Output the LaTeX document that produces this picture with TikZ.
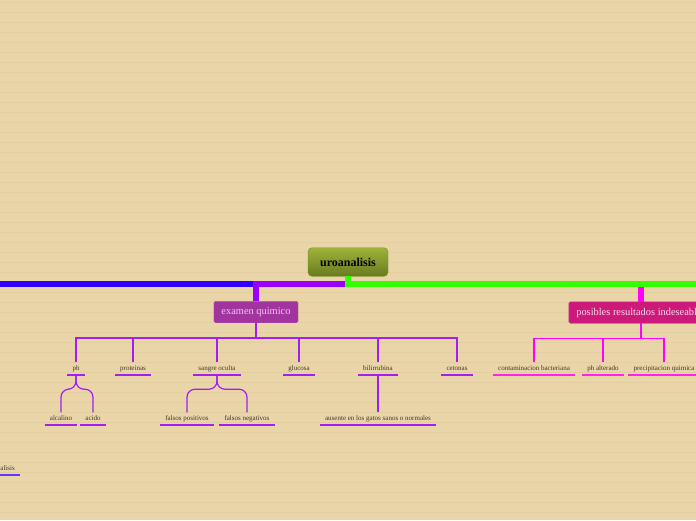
\documentclass[tikz,border=0pt]{standalone}
\usepackage{fontspec}
\setmainfont{Liberation Serif}
\usepackage{xcolor}
\definecolor{PaperBg}{HTML}{E9D5A8}
\definecolor{PaperLine}{HTML}{E3CEA1}
\definecolor{RootTop}{HTML}{9DB43A}
\definecolor{RootBot}{HTML}{6A7A1F}
\definecolor{RootEdge}{HTML}{7A8C2A}
\definecolor{BranchBlue}{HTML}{3300FF}
\definecolor{BranchViolet}{HTML}{9900FF}
\definecolor{BranchGreen}{HTML}{33FF00}
\definecolor{BranchMagenta}{HTML}{FF00FF}
\definecolor{ExamFill}{HTML}{A2349F}
\definecolor{ExamText}{HTML}{F3C8EA}
\definecolor{PosFill}{HTML}{CC1A7B}
\definecolor{PosText}{HTML}{FAD9EB}
\definecolor{LeafText}{HTML}{3E3729}
\definecolor{LineViolet}{HTML}{A21EF2}
\definecolor{LinePink}{HTML}{FF22EE}
\definecolor{LineIndigo}{HTML}{6633FF}
\tikzset{
  % Nodo centrale e rami principali
  root/.style={rounded corners=4,draw=RootEdge,top color=RootTop,bottom color=RootBot,
    text=black,font=\fontsize{12}{14}\selectfont\bfseries,minimum width=80,minimum height=28.5,inner sep=0},
  topic/.style={rounded corners=1.5,fill=#1,draw=#1!85!white,font=\fontsize{10.4}{12}\selectfont,
    minimum height=21.5,inner xsep=7.5,inner ysep=0},
  % Foglie sottolineate
  leaf/.style={text=LeafText,font=\fontsize{7}{8}\selectfont,text height=5,text depth=1.6,
    inner xsep=5,inner ysep=2.9,anchor=base},
  underline/.style={line width=1.5,#1},
  % Connessioni
  thick branch/.style={line width=6,#1},
  thin branch/.style={line width=1.2,#1}
}
\begin{document}
\begin{tikzpicture}[x=1pt,y=-1pt]
    \fill[PaperBg] (0,0) rectangle (696,520);
    \useasboundingbox (0,0) rectangle (696,520);
    \clip (0,0) rectangle (696,520);
    \foreach \y in {2.5,12.5,...,512.5} \draw[PaperLine,line width=0.5] (0,\y)--(696,\y);
    \node[root] (uro) at (348,262) {uroanalisis};
    \node[topic=ExamFill,text=ExamText] (eq) at (256,312) {examen quimico};
    \node[topic=PosFill,text=PosText,minimum width=140] (pr) at (641,312.5) {posibles resultados indeseables};
    \coordinate (hub) at (348,284);
    \coordinate (west) at (-20,284);
    \coordinate (east) at (720,284);
    \draw[thick branch=BranchBlue] (hub)--(west);
    \draw[thick branch=BranchViolet] (hub) -| (eq.north);
    \draw[thick branch=BranchMagenta] (pr.north |- hub)--(pr.north);
    \draw[thick branch=BranchGreen] (uro.south) |- (east);
    \node[leaf] (ph) at (76,370.5) {ph};
    \node[leaf] (prot) at (133,370.5) {proteinas};
    \node[leaf] (sang) at (217,370.5) {sangre oculta};
    \node[leaf] (gluc) at (299,370.5) {glucosa};
    \node[leaf] (bili) at (378,370.5) {bilirrubina};
    \node[leaf] (ceto) at (457,370.5) {cetonas};
    \node[leaf] (alc) at (61,420.5) {alcalino};
    \node[leaf] (aci) at (93,420.5) {acido};
    \node[leaf] (fpos) at (187,420.5) {falsos positivos};
    \node[leaf] (fneg) at (247,420.5) {falsos negativos};
    \node[leaf] (aus) at (378,420.5) {ausente en los gatos sanos o normales};
    \node[leaf] (cont) at (534,370.5) {contaminacion bacteriana};
    \node[leaf] (phalt) at (603,370.5) {ph alterado};
    \node[leaf] (prec) at (664,370.5) {precipitacion quimica};
    \node[leaf,anchor=base east] (ana) at (20,470.5) {analisis};
    \foreach \n in {ph,prot,sang,gluc,bili,ceto}
      \draw[thin branch=LineViolet] (eq.south)--++(0,15) -| (\n.north);
    \foreach \n in {alc,aci}
      \draw[thin branch=LineViolet,rounded corners=8] (ph.south)--++(0,14) -| (\n.north);
    \foreach \n in {fpos,fneg}
      \draw[thin branch=LineViolet,rounded corners=8] (sang.south)--++(0,14) -| (\n.north);
    \draw[thin branch=LineViolet] (bili.south)--(aus.north);
    \foreach \n in {cont,phalt,prec}
      \draw[thin branch=BranchMagenta] (pr.south)--++(0,15) -| (\n.north);
    \foreach \n/\c in {ph/LineViolet,prot/LineViolet,sang/LineViolet,gluc/LineViolet,bili/LineViolet,
        ceto/LineViolet,alc/LineViolet,aci/LineViolet,fpos/LineViolet,fneg/LineViolet,aus/LineViolet,
        cont/LinePink,phalt/LinePink,prec/LinePink,ana/LineIndigo}
      \draw[underline=\c] (\n.south west)--(\n.south east);
\end{tikzpicture}
\end{document}
